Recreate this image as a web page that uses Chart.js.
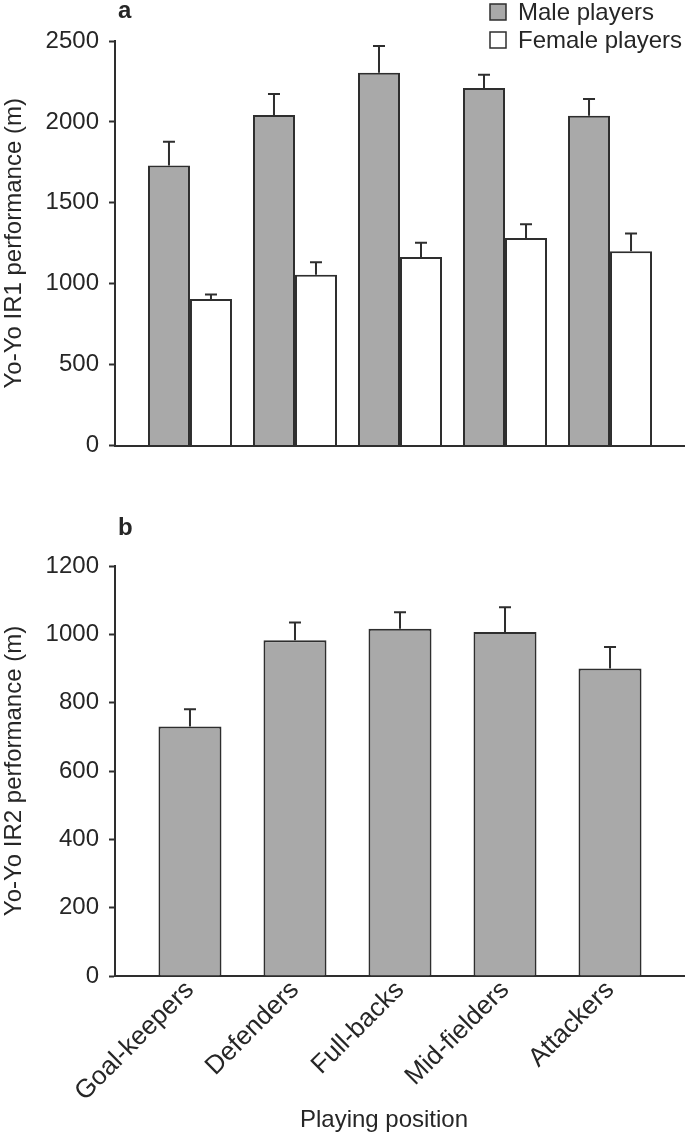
<!DOCTYPE html>
<html>
<head>
<meta charset="utf-8">
<script src="https://cdn.jsdelivr.net/npm/chart.js@4.4.1/dist/chart.umd.min.js"></script>
<style>
  html, body { margin: 0; padding: 0; background: #fff; }
  .panel { position: absolute; left: 0; }
  #wrapA { top: 0; width: 685px; height: 470px; }
  #wrapB { top: 470px; width: 685px; height: 671px; }
</style>
</head>
<body>
<div id="wrapA" class="panel"><canvas id="chartA" width="685" height="470"></canvas></div>
<div id="wrapB" class="panel"><canvas id="chartB" width="685" height="671"></canvas></div>
<script>
// Data
const categories = ["Goal-keepers", "Defenders", "Full-backs", "Mid-fielders", "Attackers"];
const maleIR1 = [1730, 2042, 2304, 2209, 2038];
const maleIR1Err = [147, 130, 165, 83, 104];
const femaleIR1 = [906, 1055, 1166, 1283, 1201];
const femaleIR1Err = [28, 78, 88, 84, 110];
const maleIR2 = [730, 983, 1016, 1007, 900];
const maleIR2Err = [51, 52, 49, 72, 63];
const ticksIR1 = [0, 500, 1000, 1500, 2000, 2500];
const ticksIR2 = [0, 200, 400, 600, 800, 1000, 1200];

const FONT = "'Liberation Sans', Arial, Helvetica, sans-serif";
const INK = "#262626";
const GREY = "#a9a9a9";
const EDGE = "#2e2e2e";

Chart.defaults.font.family = FONT;
Chart.defaults.color = INK;

const toPoints = vals => vals.map((v, i) => ({ x: i, y: v }));

// upper error bars with caps
const errorBars = {
  id: "errorBars",
  afterDatasetsDraw(chart){
    const ctx = chart.ctx;
    const yScale = chart.scales.y;
    ctx.save();
    ctx.strokeStyle = EDGE;
    ctx.lineWidth = 2;
    chart.data.datasets.forEach((ds, d) => {
      if (!ds.errors) return;
      const meta = chart.getDatasetMeta(d);
      meta.data.forEach((el, i) => {
        const top = yScale.getPixelForValue(ds.data[i].y + ds.errors[i]);
        ctx.beginPath();
        ctx.moveTo(el.x, el.y);
        ctx.lineTo(el.x, top);
        ctx.moveTo(el.x - 6, top);
        ctx.lineTo(el.x + 6, top);
        ctx.stroke();
      });
    });
    ctx.restore();
  }
};

// free text: panel letters, x title
const labels = {
  id: "labels",
  afterDraw(chart, args, opts){
    if (!opts.items) return;
    const ctx = chart.ctx;
    ctx.save();
    ctx.fillStyle = INK;
    ctx.textBaseline = "middle";
    opts.items.forEach(it => {
      ctx.font = (it.bold ? "bold " : "") + "24px " + FONT;
      ctx.textAlign = it.align || "left";
      ctx.fillText(it.text, it.x, it.y);
    });
    ctx.restore();
  }
};

const boxLegend = {
  id: "boxLegend",
  afterDraw(chart, args, opts){
    if (!opts.items) return;
    const ctx = chart.ctx;
    ctx.save();
    ctx.font = "24px " + FONT;
    ctx.textBaseline = "middle";
    opts.items.forEach((it, k) => {
      const y = opts.y + k * 28;
      ctx.fillStyle = it.fill;
      ctx.strokeStyle = EDGE;
      ctx.lineWidth = 1.5;
      ctx.fillRect(opts.x, y - 8, 16, 16);
      ctx.strokeRect(opts.x, y - 8, 16, 16);
      ctx.fillStyle = INK;
      ctx.fillText(it.label, opts.x + 28, y + 1);
    });
    ctx.restore();
  }
};

function xAxis(showLabels){
  return {
    type: "linear",
    offset: false,
    min: -0.714,
    max: 4.714,
    ticks: {
      display: showLabels,
      stepSize: 1,
      includeBounds: false,
      autoSkip: false,
      minRotation: 45,
      maxRotation: 45,
      padding: -9,
      font: { size: 26 },
      color: INK,
      callback: v => categories[v]
    },
    afterBuildTicks: axis => {
      axis.ticks = axis.ticks.filter(t => Number.isInteger(t.value) && t.value >= 0 && t.value < categories.length);
    },
    grid: { display: false, offset: false },
    border: { display: true, color: EDGE, width: 2 },
    title: { display: false }
  };
}

function yAxis(max, ticks, title){
  return {
    min: 0,
    max: max,
    afterBuildTicks: axis => { axis.ticks = ticks.map(v => ({ value: v })); },
    ticks: { font: { size: 24 }, color: INK, padding: 10, callback: v => String(v) },
    grid: { drawOnChartArea: false, drawTicks: true, tickLength: 6, tickColor: EDGE, tickWidth: 2 },
    border: { display: true, color: EDGE, width: 2 },
    title: {
      display: true,
      text: title,
      font: { size: 24, lineHeight: 1 },
      color: INK,
      padding: { top: 2, bottom: 0 }
    },
    afterFit: axis => { axis.width = 115; }
  };
}

// Panel a
const xA = xAxis(false);
xA.afterFit = axis => { axis.height = 0; };
new Chart(document.getElementById("chartA"), {
  type: "bar",
  data: {
    datasets: [
      {
        label: "Male players",
        data: toPoints(maleIR1),
        errors: maleIR1Err,
        backgroundColor: GREY,
        borderColor: EDGE,
        borderWidth: 2,
        categoryPercentage: 0.8,
        barPercentage: 1.0
      },
      {
        label: "Female players",
        data: toPoints(femaleIR1),
        errors: femaleIR1Err,
        backgroundColor: "#ffffff",
        borderColor: EDGE,
        borderWidth: 2,
        categoryPercentage: 0.8,
        barPercentage: 1.0
      }
    ]
  },
  options: {
    responsive: false,
    animation: false,
    layout: { padding: { top: 41, bottom: 19, left: 0, right: 0 } },
    plugins: {
      legend: { display: false },
      tooltip: { enabled: false },
      labels: { items: [{ text: "a", x: 118, y: 11, bold: true }] },
      boxLegend: {
        x: 490, y: 12,
        items: [
          { label: "Male players", fill: GREY },
          { label: "Female players", fill: "#ffffff" }
        ]
      }
    },
    scales: {
      x: xA,
      y: yAxis(2500, ticksIR1, "Yo-Yo IR1 performance (m)")
    }
  },
  plugins: [errorBars, labels, boxLegend]
});

// Panel b
const xB = xAxis(true);
xB.afterFit = axis => { axis.height = 165; };
new Chart(document.getElementById("chartB"), {
  type: "bar",
  data: {
    datasets: [
      {
        label: "Players",
        data: toPoints(maleIR2),
        errors: maleIR2Err,
        backgroundColor: GREY,
        borderColor: EDGE,
        borderWidth: 2,
        categoryPercentage: 0.6,
        barPercentage: 1.0
      }
    ]
  },
  options: {
    responsive: false,
    animation: false,
    layout: { padding: { top: 96, bottom: 0, left: 0, right: 0 } },
    plugins: {
      legend: { display: false },
      tooltip: { enabled: false },
      labels: {
        items: [
          { text: "b", x: 118, y: 58, bold: true },
          { text: "Playing position", x: 384, y: 650, align: "center" }
        ]
      },
      boxLegend: {}
    },
    scales: {
      x: xB,
      y: yAxis(1200, ticksIR2, "Yo-Yo IR2 performance (m)")
    }
  },
  plugins: [errorBars, labels, boxLegend]
});
</script>
</body>
</html>
